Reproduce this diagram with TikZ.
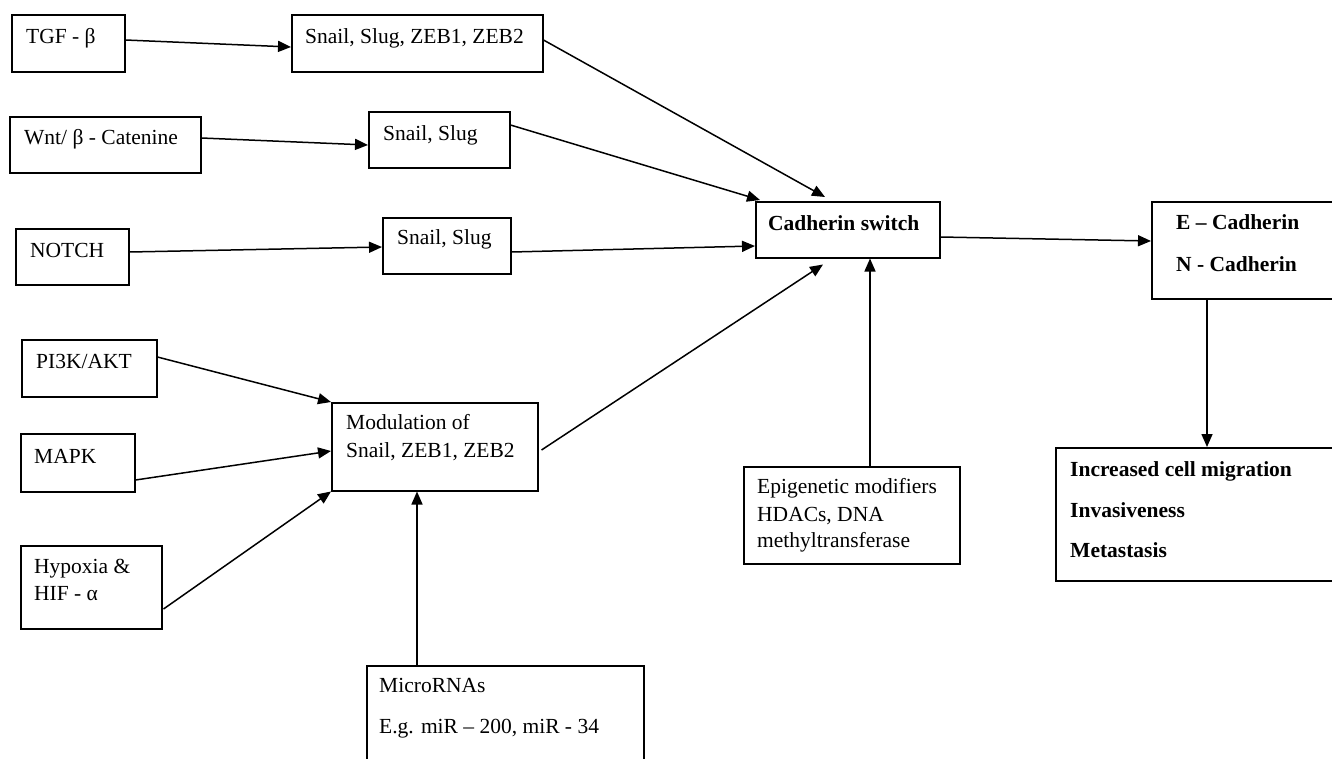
\documentclass[tikz,border=0pt]{standalone}
\usepackage{fontspec}
\setmainfont{Liberation Serif}
\usetikzlibrary{arrows.meta,calc}
\begin{document}
\begin{tikzpicture}[x=1pt,y=-1pt,
  box/.style={draw,line width=1.5pt,inner sep=0pt,anchor=north west},
  txt/.style={inner sep=0pt,anchor=base west,font=\fontsize{21.5}{27}\selectfont},
  btxt/.style={txt,font=\fontsize{21.5}{27}\selectfont\bfseries},
  arr/.style={line width=1.5pt,-{Triangle[length=13pt,width=11pt]}}]
\useasboundingbox (0,0) rectangle (1332,758);
% boxes
\node[box,minimum width=113pt,minimum height=57pt] (tgf) at (11,14) {};
\node[box,minimum width=251pt,minimum height=57pt] (snz) at (291,14) {};
\node[box,minimum width=191pt,minimum height=56pt] (wnt) at (9,116) {};
\node[box,minimum width=141pt,minimum height=56pt] (ssa) at (368,111) {};
\node[box,minimum width=113pt,minimum height=56pt] (notch) at (15,228) {};
\node[box,minimum width=128pt,minimum height=56pt] (ssb) at (382,217) {};
\node[box,minimum width=184pt,minimum height=56pt] (cad) at (755,201) {};
\node[box,minimum width=200pt,minimum height=97pt] (encad) at (1151,201) {};
\node[box,minimum width=135pt,minimum height=57pt] (pik) at (21,339) {};
\node[box,minimum width=206pt,minimum height=88pt] (mod) at (331,402) {};
\node[box,minimum width=114pt,minimum height=58pt] (mapk) at (20,433) {};
\node[box,minimum width=141pt,minimum height=83pt] (hyp) at (20,545) {};
\node[box,minimum width=277pt,minimum height=110pt] (mir) at (366,665) {};
\node[box,minimum width=216pt,minimum height=97pt] (epi) at (743,466) {};
\node[box,minimum width=300pt,minimum height=133pt] (inc) at (1055,447) {};
% texts
\node[txt] (tgft) at (26,43) {TGF - β};
\node[txt] (snzt) at (305,43) {Snail, Slug, ZEB1, ZEB2};
\node[txt] (wntt) at (24,144) {Wnt/ β - Catenine};
\node[txt] (ssat) at (383,140) {Snail, Slug};
\node[txt] (notcht) at (30,257) {NOTCH};
\node[txt] (ssbt) at (397,244) {Snail, Slug};
\node[btxt] (cadt) at (768,230) {Cadherin switch};
\node[btxt] (ecadt) at (1176,229) {E – Cadherin};
\node[btxt] (ncadt) at (1176,271) {N - Cadherin};
\node[txt] (pikt) at (36,368) {PI3K/AKT};
\node[txt] (modat) at (346,429) {Modulation of};
\node[txt] (modbt) at (346,457) {Snail, ZEB1, ZEB2};
\node[txt] (mapkt) at (34,463) {MAPK};
\node[txt] (hypat) at (34,573) {Hypoxia \&};
\node[txt] (hypbt) at (34,600) {HIF - α};
\node[txt] (mirat) at (379,692) {MicroRNAs};
\node[txt] (mirbt) at (379,733) {E.g. miR – 200, miR - 34};
\node[txt] (epiat) at (757,493) {Epigenetic modifiers};
\node[txt] (epibt) at (757,521) {HDACs, DNA};
\node[txt] (epict) at (757,547) {methyltransferase};
\node[btxt] (incat) at (1070,476) {Increased cell migration};
\node[btxt] (incbt) at (1070,517) {Invasiveness};
\node[btxt] (incct) at (1070,557) {Metastasis};
% connectors
\draw[arr] ($(tgf.north east)+(0,26)$) -- ($(snz.north west)+(0,33)$);
\draw[arr] ($(wnt.north east)+(0,22)$) -- ($(ssa.north west)+(0,34)$);
\draw[arr] ($(notch.north east)+(0,24)$) -- ($(ssb.north west)+(0,30)$);
\draw[arr] ($(snz.north east)+(0,26)$) -- ($(cad.north west)+(70,-4)$);
\draw[arr] ($(ssa.north east)+(0,14)$) -- ($(cad.north west)+(5,-1)$);
\draw[arr] ($(ssb.north east)+(0,35)$) -- ($(cad.north west)+(0,45)$);
\draw[arr] ($(pik.north east)+(0,18)$) -- (mod.north west);
\draw[arr] ($(mapk.north east)+(0,47)$) -- ($(mod.north west)+(0,49)$);
\draw[arr] ($(hyp.north east)+(1,64)$) -- (mod.south west);
\draw[arr] ($(mod.north east)+(3,48)$) -- ($(cad.south west)+(68,6)$);
\draw[arr] ($(mir.north west)+(51,0)$) -- ($(mod.south west)+(86,0)$);
\draw[arr] ($(epi.north west)+(127,0)$) -- ($(cad.south west)+(115,0)$);
\draw[arr] ($(cad.north east)+(0,36)$) -- ($(encad.north west)+(0,40)$);
\draw[arr] ($(encad.south west)+(56,0)$) -- ($(inc.north west)+(152,0)$);
\end{tikzpicture}
\end{document}
